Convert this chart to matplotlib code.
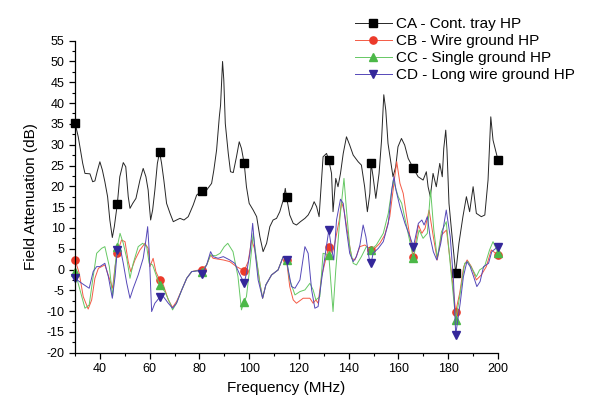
# Field attenuation vs frequency for four cable tray grounding setups
import numpy as np
import matplotlib.pyplot as plt

plt.rcParams['font.family'] = ['Liberation Sans', 'DejaVu Sans']
plt.rcParams['axes.unicode_minus'] = False

# frequencies where the markers sit (MHz)
marker_freq = [30, 47, 64, 81, 98, 115, 132, 149, 166, 183, 200]

# CA - Cont. tray HP
ca_freq = [30, 31.3, 33.1, 34, 36, 37.1, 38, 38.9, 40, 41, 42, 43.1, 44, 45, 45.8,
           47, 48, 49.4, 50.4, 51.4, 52.1, 53.2, 54.5, 56.1, 57.4, 58.5, 59.4, 59.8,
           60.4, 61.2, 62.1, 63.1, 64, 64.8, 65.7, 66.8, 68.2, 69.5, 70.8, 72.2, 73.8,
           75.5, 77.5, 78.9, 81, 82.9, 84.9, 85.8, 86.9, 88, 88.5, 89.3, 89.8, 90.4,
           91.6, 92.5, 93.6, 94.9, 96, 96.9, 98, 98.9, 100, 101.6, 103, 104.3, 105.6,
           107, 108.3, 109.6, 111, 112.3, 113.9, 114.5, 115, 116.3, 117.7, 119, 120.6,
           122.4, 123.7, 125.1, 126.1, 127.1, 128.1, 129.7, 131.1, 132, 133.1, 133.7,
           134.8, 135.7, 136.7, 137.8, 139.1, 140.4, 141.8, 143.8, 145.1, 146.4, 147.5,
           148.5, 149, 149.8, 150.9, 152.2, 153.2, 154.1, 154.9, 155.8, 156.8, 157.8,
           158.9, 159.8, 161.2, 162.5, 163.9, 166, 167.9, 169.9, 171.2, 171.9, 172.8,
           173.9, 175.2, 176.6, 177.6, 178.2, 179, 179.5, 180.3, 181.3, 183, 184.3,
           185.9, 187.3, 188.6, 190, 191.3, 193.3, 194.7, 196, 197.1, 198, 200]
ca_db = [35.3, 31.9, 25.5, 23.1, 23, 21.1, 21.3, 23.5, 25.9, 23.9, 21.1, 17.5, 11.9, 7.7, 10.3,
         15.7, 22.3, 25.7, 24.7, 17.5, 14.7, 15.9, 17.1, 21.5, 24.3, 22.3, 19.1, 15.9,
         11.9, 14.3, 19.1, 25.5, 28.2, 25.5, 21.5, 15.9, 13.5, 11.5, 11.9, 12.3, 11.9,
         12.7, 15.5, 17.9, 18.9, 19.1, 20.7, 23.9, 28.7, 36.7, 39.5, 50, 45.6, 35.1,
         27.9, 23.5, 23.3, 27.1, 30.7, 29.1, 25.5, 19.9, 15.9, 14.3, 12.7, 7.9, 4.3,
         6.3, 10.3, 11.9, 12.3, 13.9, 17.1, 19.5, 17.5, 13.1, 11.1, 10.7, 11.5,
         12.3, 13.1, 14.7, 16.3, 15.1, 12.7, 27.1, 27.9, 26.3, 23.1, 13.9,
         21.9, 19.9, 23.1, 27.9, 31.9, 29.9, 27.5, 25.9, 25.1, 19.9, 13.9,
         18.3, 25.5, 22.3, 17.1, 23.1, 31.1, 42, 38.3, 30.3, 26.3, 22.3,
         24.7, 29.5, 31.5, 29.9, 26.7, 24.3, 22.3, 21.5, 23.5, 19.9, 17.5,
         23.1, 19.9, 25.5, 22.3, 29.1, 33.5, 28.7, 15.9, 9.5, -0.9, 6.3,
         12.7, 17.5, 13.9, 19.9, 13.5, 12.7, 13.1, 21.5, 36.7, 31.1, 26.3]

# CB - Wire ground HP
cb_freq = [30, 31.7, 33.3, 35.3, 36.7, 38, 39.4, 40.7, 42, 44, 45.1, 46.1, 47, 48.7, 50.1,
           51.4, 52.4, 54.1, 56.1, 58.1, 59.4, 60.1, 61.4, 62.5, 64, 65.5, 67.5, 69.2,
           70.8, 72.9, 74.9, 76.9, 79, 81, 82.9, 84.5, 85.5, 87.5, 89.6, 92.2, 94.9,
           98, 99.6, 101, 102.3, 104.3, 105.4, 106.7, 109, 111.6, 113.7, 115, 116.3,
           117.7, 119, 121.7, 124.4, 125.7, 126.8, 127.7, 129.1, 132, 133.4, 134.4,
           136.2, 137.1, 138.1, 139.8, 141.2, 142.5, 144.5, 146.5, 149, 150.5, 152.5,
           154.5, 156.5, 158.5, 159.3, 160.6, 161.9, 163.3, 164.6, 166, 168, 169.4,
           170.7, 172.3, 174, 175.6, 177.3, 179.3, 180.9, 183, 184.6, 186.2, 187.6,
           189.3, 191.3, 193.3, 195.3, 197.3, 200]
cb_db = [2.4, -0.9, -6.5, -9.5, -7.3, -2.1, 0.3, 0.7, 1.1, -2.5, -4.5, 0.7, 4.0, 7.1, 6.7,
         1.9, -0.5, 2.3, 4.7, 6.3, 5.1, 0.7, 2.7, -0.5, -2.5, -3.7, -7.3, -9.1,
         -7.7, -4.9, -2.1, -0.5, -0.2, 0, 1.1, 3.5, 2.7, 2.5, 2.3, 1.9, 0.7,
         -0.3, 1.9, 7.1, 4.7, -3.3, -6.9, -3.7, -1.3, -0.1, 3.1, 2.3, -4.1,
         -7.3, -8.1, -6.9, -6.9, -8.1, -7.3, -8.1, -1.7, 5.5, 3.9, 6.3,
         11.9, 16.3, 14.3, 7.9, 2.7, 2.3, 5.5, 5.9, 4.7, 5.1, 6.3,
         8.3, 12.7, 22.3, 25.9, 20.7, 18.3, 12.7, 7.9, 3.0, 10.7, 8.7,
         9.9, 14.3, 7.9, 2.3, 8.3, 9.5, 1.5, -10.1, -5.7, 0.7, 2.3,
         0.7, -2.5, -1.3, 0.7, 4.7, 3.5]

# CC - Single ground HP
cc_freq = [30, 32, 34, 35.7, 37.3, 38.7, 40.7, 42, 43.8, 45.1, 46.1, 47, 48.1, 49.4, 50.8,
           52.1, 53.4, 55.4, 57.2, 58.8, 59.8, 61.2, 62.8, 64, 66.1, 68.2, 69.2, 70.8,
           72.9, 74.9, 76.9, 79, 81, 82.9, 84.5, 86.5, 88.3, 90, 91.4, 93.5, 95.5,
           96.9, 98, 98.9, 100.3, 101.6, 102.5, 104.3, 105.4, 106.7, 109, 111.6, 113.7,
           115, 116.3, 118.4, 120.4, 122.4, 124.4, 125.7, 126.8, 128.4, 129.7, 132,
           133.7, 134.8, 136.4, 138.1, 139.1, 140.4, 141.8, 143.1, 145.1, 147.1, 149,
           151.1, 153.9, 155.9, 157.3, 157.9, 159.9, 161.3, 163.3, 166, 168.3, 169.9,
           171.6, 172.9, 174.2, 175.6, 177.3, 179.2, 180.9, 183, 184.6, 186.6, 187.9,
           189.9, 191.3, 192.6, 194.6, 196.6, 198, 200]
cc_db = [-0.5, -4.9, -9.3, -8.5, -1.7, 3.9, 5.1, 5.5, 0.7, -6.5, 0.7, 5.5, 8.7, 6.3, 2.7,
         -2.1, 1.5, 5.5, 6.3, 5.5, 1.5, 1.1, -1.7, -3.7, -5.3, -8.1, -9.7, -8.1,
         -4.9, -2.1, -0.5, -0.3, -0.5, 1.1, 3.5, 3.3, 3.9, 5.5, 6.3, 4.3, -1.7,
         -9.7, -7.7, -6.5, 0.7, 8.7, 4.5, -3.3, -6.9, -3.7, -1.3, -0.1, 3.1,
         2.3, -2.5, -6.1, -5.3, -4.9, -3.3, -4.9, -7.3, -6.5, 3.9, 3.5,
         -10.1, -0.1, 11.9, 21.9, 14.3, 5.5, 1.5, 1.1, 3.1, 5.5, 4.7,
         5.9, 8.7, 13.5, 19.1, 21.5, 17.5, 15.9, 10.3, 2.7, 9.5, 7.5,
         8.7, 19.1, 9.5, 2.7, 9.1, 11.5, 0.7, -12.1, -6.5, 1.5, 1.9,
         -0.1, -1.7, -0.1, 0.7, 4.7, 6.7, 4.0]

# CD - Long wire ground HP
cd_freq = [30, 32.7, 35.7, 37.3, 38.7, 40, 42, 43.4, 45, 46.1, 47, 48.1, 49.4, 50.8, 52.1,
           53.4, 55.4, 57.4, 58.5, 59.2, 59.8, 60.8, 62.1, 64, 65.5, 67.5, 69.2, 70.8,
           72.9, 74.9, 76.9, 79.5, 81, 82.9, 84.5, 85.5, 87.5, 89.6, 92.2, 94.2, 96,
           98, 98.9, 100.3, 101.4, 102.3, 103.6, 105.4, 106.7, 109, 111.6, 113.7, 115,
           115.7, 117, 118.4, 120.4, 122.4, 123.7, 125.1, 126.4, 127.7, 129.1, 132,
           133.1, 134, 135.1, 136.7, 137.8, 139.1, 140.4, 141.8, 143.1, 144.5, 145.8,
           146.9, 148.2, 149, 149.8, 151.9, 153.9, 155.9, 157.3, 158.2, 159, 160.6,
           162.6, 164.6, 166, 168, 169.4, 170.3, 171.6, 172.7, 174, 175.4, 177, 179.2,
           180.8, 182.1, 183, 184.8, 186.1, 187.5, 188.8, 190.2, 191.5, 192.8, 194.2,
           196.2, 197.5, 200]
cd_db = [-2.1, -3.3, -4.5, -0.5, 0.7, 0.7, 1.5, -1.7, -6.9, -1.7, 4.7, 5.5, 1.5, -3.3, -6.9,
         -4.5, -1.3, 2.7, 7.1, 10.3, 4.7, -10.1, -8.1, -6.7, -6.5, -8.1, -9.3, -8.1,
         -4.9, -2.1, -0.5, -0.3, -1.0, 1.1, 4.3, 3.1, 2.7, 3.1, 2.3, 1.5, -0.9,
         -3.3, -0.9, 3.9, 11.1, 4.7, -2.5, -6.9, -3.7, -1.3, -0.1, 3.1, 2.3,
         -0.1, -4.1, -4.5, -2.5, 5.5, 3.9, -4.9, -9.3, -8.9, -2.5, 9.5,
         5.1, 2.3, 11.9, 16.9, 15.9, 9.5, 3.9, 1.9, 3.1, 5.9, 10.7,
         7.9, 2.7, 1.5, 3.9, 5.1, 6.7, 11.1, 19.1, 22.3, 19.1, 15.1,
         11.1, 7.9, 5.5, 11.1, 11.9, 10.7, 12.7, 7.9, 4.3, 2.3, 6.3, 14.3,
         7.9, -2.5, -15.7, -8.1, -1.7, 1.9, 0.7, -1.7, -4.1, -2.9, 0.7,
         1.5, 4.3, 5.5]

series = [
    (ca_freq, ca_db, "CA - Cont. tray HP", "#262626", "#000000", "s"),
    (cb_freq, cb_db, "CB - Wire ground HP", "#f45a45", "#ec3a2a", "o"),
    (cc_freq, cc_db, "CC - Single ground HP", "#66c864", "#4cb848", "^"),
    (cd_freq, cd_db, "CD - Long wire ground HP", "#5548b8", "#34279a", "v"),
]

fig = plt.figure(figsize=(6, 4.15), dpi=100)
ax = fig.add_axes([0.125, 0.150, 0.705, 0.752])

for freq, db, label, lc, mc, mk in series:
    idx = [freq.index(f) for f in marker_freq]
    ax.plot(freq, db, color=lc, lw=0.7, marker=mk, markevery=idx,
            markersize=5.2, markerfacecolor=mc, markeredgecolor=mc, label=label,
            clip_on=False)

ax.set_xlim(30, 200)
ax.set_ylim(-20, 55)
ax.set_xticks(np.arange(40, 201, 20))
ax.set_xticks(np.arange(30, 201, 10), minor=True)
ax.set_yticks(np.arange(-20, 56, 5))
ax.set_yticks(np.arange(-17.5, 55, 2.5), minor=True)
ax.tick_params(which='major', direction='out', length=4, width=0.9, labelsize=9)
ax.tick_params(which='minor', direction='out', length=2.5, width=0.8)
for s in ['top', 'right']:
    ax.spines[s].set_visible(False)
for s in ['left', 'bottom']:
    ax.spines[s].set_linewidth(0.9)

ax.set_xlabel("Frequency (MHz)", fontsize=11)
ax.set_ylabel("Field Attenuation (dB)", fontsize=11, labelpad=6)

fig.legend(loc='upper left', bbox_to_anchor=(355 / 600, 1 - 17 / 415),
           frameon=False, fontsize=11, handlelength=2.4, handletextpad=0.3,
           labelspacing=0.2, borderpad=0, borderaxespad=0)

fig.savefig("out.png", dpi=100)
